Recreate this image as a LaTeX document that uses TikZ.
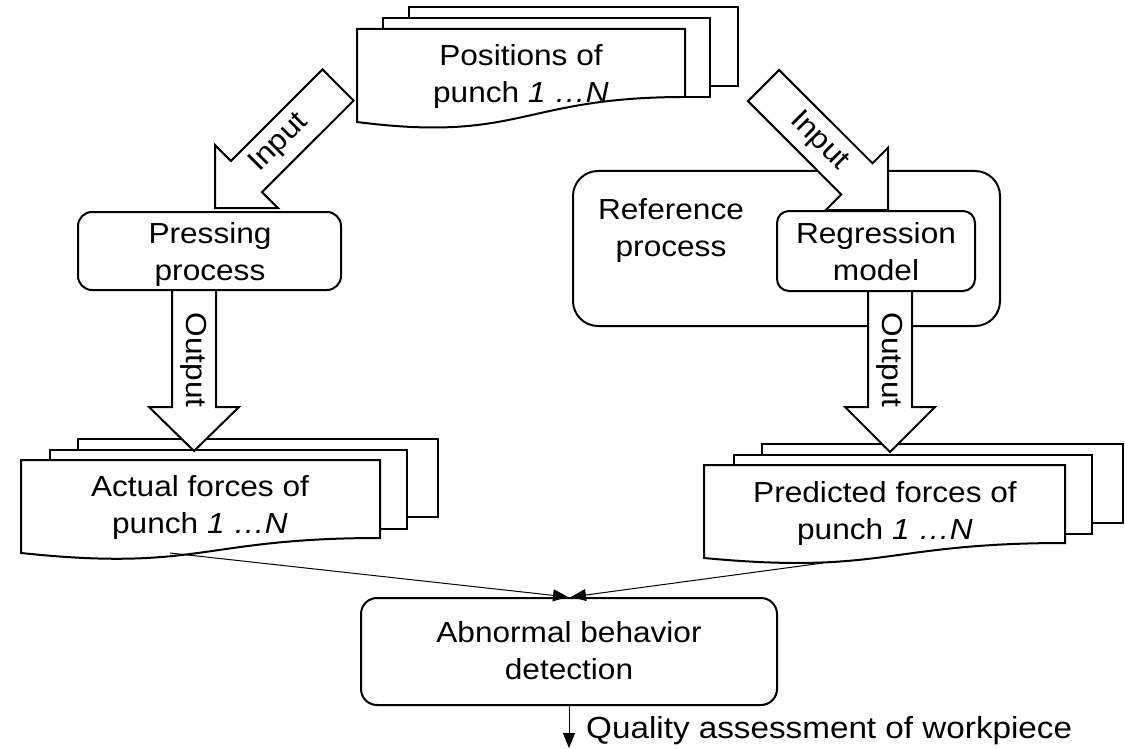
\documentclass[tikz,border=0pt]{standalone}
\usepackage{fontspec}
\setmainfont{Liberation Sans}[FakeStretch=1.09]
\usetikzlibrary{arrows.meta}
\begin{document}
\begin{tikzpicture}[x=1pt,y=-1pt,line join=miter,
  box/.style={draw,line width=2pt,fill=white},
  docshape/.style={draw,line width=2pt,fill=white},
  blockarrow/.style={draw,line width=2pt,fill=white,line join=miter},
  txt/.style={font=\fontsize{29}{37}\selectfont,align=center,inner sep=0pt},
  lbl/.style={font=\fontsize{29}{37}\selectfont,inner sep=0pt},
  thinarrow/.style={line width=1pt,-{Triangle[length=15pt,width=12pt]}}]
\fill[white] (0,0) rectangle (1125,749);
\useasboundingbox (0,0) rectangle (1125,749);

% ---- process boxes ----
\node[box,rounded corners=25pt,minimum width=427pt,minimum height=155pt,inner sep=0pt] (refbox) at (786.5,248.5) {};
\node[box,rounded corners=12pt,minimum width=198pt,minimum height=80pt,inner sep=0pt] (regbox) at (876,251) {};
\node[box,rounded corners=14pt,minimum width=263pt,minimum height=78pt,inner sep=0pt] (press) at (209.5,251) {};
\node[box,rounded corners=16pt,minimum width=416pt,minimum height=107pt,inner sep=0pt] (abn) at (569,651.5) {};

% ---- document stacks ----
% positions
\path[docshape] (409,7) rectangle (738,86);
\path[docshape] (383,18) rectangle (710,97);
\path[docshape] (357,29) -- (685,29) -- (685,97) .. controls (521,97) and (521,143) .. (357,122) -- cycle;
% actual forces
\path[docshape] (78,439) rectangle (438,517);
\path[docshape] (50,450) rectangle (407,529);
\path[docshape] (21,460) -- (380,460) -- (380,538) .. controls (200.5,538) and (200.5,572) .. (21,553) -- cycle;
% predicted forces
\path[docshape] (762,444) rectangle (1123,523);
\path[docshape] (734,455) rectangle (1092,534);
\path[docshape] (704,465) -- (1065,465) -- (1065,543) .. controls (884.5,543) and (884.5,575) .. (704,558) -- cycle;

% ---- block arrows ----
% left input
\path[blockarrow] (215,208) -- (215,145.1) -- (230.9,161.0) -- (322.5,69.4) -- (353.6,100.6) -- (262.0,192.1) -- (277.9,208) -- cycle;
\node[lbl,rotate=45] (inl) at (279,143) {Input};
% right input
\path[blockarrow] (888,210) -- (888,147.8) -- (872.5,163.3) -- (779.1,70.0) -- (748.0,101.1) -- (841.3,194.5) -- (825.8,210) -- cycle;
\node[lbl,rotate=-45] (inr) at (819,141) {Input};
% left output
\path[blockarrow] (194,451) -- (149,407) -- (172,407) -- (172,290) -- (216,290) -- (216,407) -- (239,407) -- cycle;
\node[lbl,rotate=-90] (outl) at (194,360) {Output};
% right output
\path[blockarrow] (890,452) -- (845,407) -- (868,407) -- (868,291) -- (912,291) -- (912,407) -- (935,407) -- cycle;
\node[lbl,rotate=-90] (outr) at (890,360) {Output};

% ---- texts (base anchor = last line) ----
\node[txt,anchor=base] (post) at (521,103) {Positions of\\punch \textit{1 …N}};
\node[txt,anchor=base] (actt) at (200,533) {Actual forces of\\punch \textit{1 …N}};
\node[txt,anchor=base] (predt) at (885,539) {Predicted forces of\\punch \textit{1 …N}};
\node[txt,anchor=base] (presst) at (210,280) {Pressing\\process};
\node[txt,anchor=base] (regt) at (876,280) {Regression\\model};
\node[txt,anchor=base] (reft) at (671,256) {Reference\\process};
\node[txt,anchor=base] (abnt) at (569,679) {Abnormal behavior\\detection};

% ---- connectors ----
\coordinate (actout) at (170,553);
\coordinate (predout) at (823,563);
\coordinate (qend) at (569,748);
\draw[thinarrow] (actout) -- ([xshift=-1pt]abn.north);
\draw[thinarrow] (predout) -- ([xshift=2pt]abn.north);
\draw[thinarrow] (abn.south) -- (qend);
\node[lbl,anchor=base west,font=\fontsize{30.5}{37}\selectfont] (qual) at (586,738) {Quality assessment of workpiece};
\end{tikzpicture}
\end{document}
